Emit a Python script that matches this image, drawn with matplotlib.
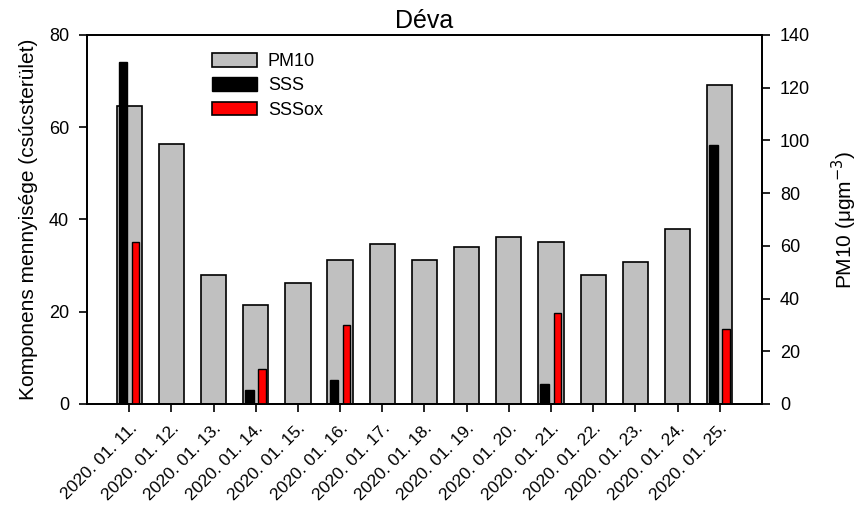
import matplotlib
matplotlib.use("Agg")
import matplotlib.pyplot as plt
import numpy as np
from matplotlib.patches import Patch

plt.rcParams['font.family'] = ['Liberation Sans', 'DejaVu Sans']

dates = ["2020. 01. 11.", "2020. 01. 12.", "2020. 01. 13.", "2020. 01. 14.", "2020. 01. 15.",
         "2020. 01. 16.", "2020. 01. 17.", "2020. 01. 18.", "2020. 01. 19.", "2020. 01. 20.",
         "2020. 01. 21.", "2020. 01. 22.", "2020. 01. 23.", "2020. 01. 24.", "2020. 01. 25."]
pm10 = [113.0, 98.7, 48.8, 37.7, 46.0, 54.6, 60.8, 54.7, 59.6, 63.2, 61.3, 48.9, 53.9, 66.4, 121.1]
sss = [74.2, 0, 0, 3.0, 0, 5.2, 0, 0, 0, 0, 4.4, 0, 0, 0, 56.2]
sssox = [35.2, 0, 0, 7.5, 0, 17.2, 0, 0, 0, 0, 19.7, 0, 0, 0, 16.3]

fig = plt.figure(figsize=(8.58, 5.07), dpi=100)
ax = fig.add_axes([0.1014, 0.2032, 0.7866, 0.7278])
ax2 = ax.twinx()
ax.set_zorder(ax2.get_zorder() + 1)
ax.patch.set_visible(False)

x = np.arange(len(dates))
ax2.bar(x, pm10, width=0.6, color='#c0c0c0', edgecolor='black', linewidth=1.2)
sx = [i for i in x if sss[i] > 0]
ax.bar(np.array(sx) - 0.15, [sss[i] for i in sx], width=0.2, color='black', edgecolor='black', linewidth=1.0)
ox = [i for i in x if sssox[i] > 0]
ax.bar(np.array(ox) + 0.15, [sssox[i] for i in ox], width=0.18, color='#ff0000', edgecolor='black', linewidth=1.0)

ax.set_xlim(-1, 15)
ax.set_ylim(0, 80)
ax2.set_ylim(0, 140)
ax.set_yticks([0, 20, 40, 60, 80])
ax2.set_yticks([0, 20, 40, 60, 80, 100, 120, 140])
ax.set_xticks(x)
ax.set_xticklabels(dates, rotation=45, ha='right', va='top', rotation_mode='anchor', fontsize=12.5)

for a in (ax, ax2):
    for s in a.spines.values():
        s.set_linewidth(1.3)
    a.tick_params(direction='out', length=6, width=1.2, labelsize=13, pad=7)
ax.tick_params(axis='x', pad=6, labelsize=12.5)

ax.set_ylabel("Komponens mennyisége (csúcsterület)", fontsize=15, labelpad=8)
ax2.set_ylabel("PM10 (μgm$^{-3}$)", fontsize=15, labelpad=14)
ax.set_title("Déva", fontsize=18, pad=5)

handles = [Patch(facecolor='#c0c0c0', edgecolor='black', linewidth=1.2),
           Patch(facecolor='black', edgecolor='black'),
           Patch(facecolor='#ff0000', edgecolor='black', linewidth=1.2)]
ax.legend(handles, ["PM10", "SSS", "SSSox"], loc='upper left', bbox_to_anchor=(0.185, 0.952),
          frameon=False, fontsize=13, handlelength=2.5, handleheight=0.8, labelspacing=0.4,
          handletextpad=0.6, borderpad=0, borderaxespad=0)

fig.savefig("out.png", dpi=100)
